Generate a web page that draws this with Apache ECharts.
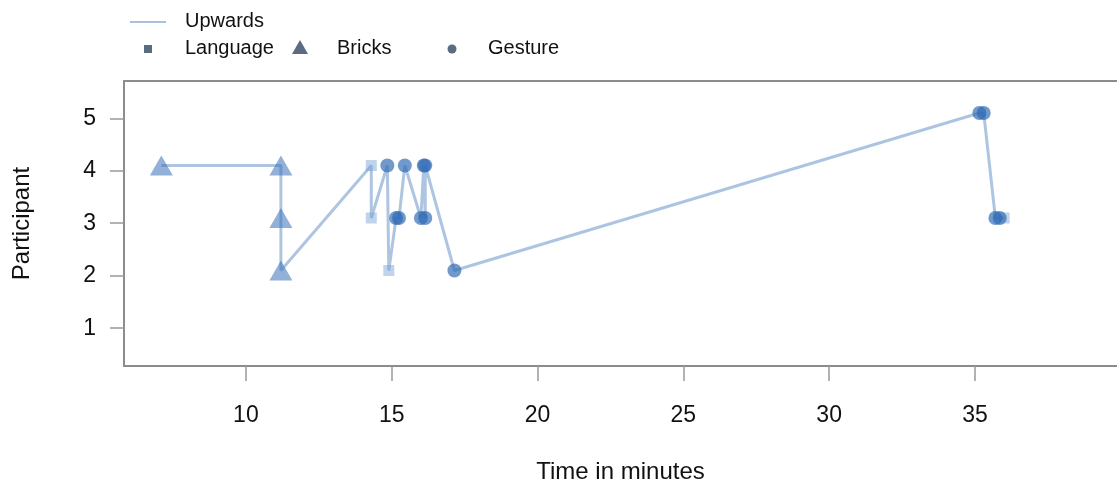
<!DOCTYPE html>
<html>
<head>
<meta charset="utf-8">
<script src="https://cdn.jsdelivr.net/npm/echarts@6/dist/echarts.min.js"></script>
<style>
  html, body { margin: 0; padding: 0; background: #fff; }
  #chart { width: 1117px; height: 484px; }
</style>
</head>
<body>
<div id="chart"></div>
<script>
// path of events in time order (minutes, participant with small offset, kind)
const times = [7.1, 11.2, 11.2, 11.2, 14.3, 14.3, 14.85, 14.9, 15.15, 15.25, 15.45, 16.0, 16.1, 16.15, 16.15, 17.15, 35.15, 35.3, 35.7, 35.85, 36.0]
const participants = [4.1, 4.1, 3.1, 2.1, 4.1, 3.1, 4.1, 2.1, 3.1, 3.1, 4.1, 3.1, 4.1, 3.1, 4.1, 2.1, 5.1, 5.1, 3.1, 3.1, 3.1]
const kinds = ['Bricks', 'Bricks', 'Bricks', 'Bricks', 'Language', 'Language', 'Gesture', 'Language', 'Gesture', 'Gesture', 'Gesture', 'Gesture', 'Gesture', 'Gesture', 'Gesture', 'Gesture', 'Gesture', 'Gesture', 'Gesture', 'Gesture', 'Language']

const xTicks = [10, 15, 20, 25, 30, 35]
const yTicks = [1, 2, 3, 4, 5]

const font = 'Liberation Sans'
const boxColor = '#8c8c8c'

const pathData = times.map((t, i) => [t, participants[i]])
const pointsOf = (kind) => times.map((t, i) => [t, participants[i], kinds[i]]).filter(d => d[2] === kind).map(d => [d[0], d[1]])

const chart = echarts.init(document.getElementById('chart'))

const option = {
  animation: false,
  backgroundColor: '#fff',
  grid: { left: 124, top: 81, right: 0, bottom: 118, outerBoundsMode: 'none', containLabel: false },
  xAxis: [
    {
      type: 'value',
      min: 5.82,
      max: 39.87,
      splitLine: { show: false },
      axisLine: { show: true, onZero: false, lineStyle: { color: boxColor, width: 2 } },
      axisTick: { show: true, length: 15, customValues: xTicks, lineStyle: { color: '#999', width: 1.5 } },
      axisLabel: { customValues: xTicks, margin: 38, fontSize: 23, color: '#111', fontFamily: font },
      name: 'Time in minutes',
      nameLocation: 'middle',
      nameGap: 94,
      nameTextStyle: { fontSize: 24, color: '#111', fontFamily: font }
    },
    {
      type: 'value',
      position: 'top',
      min: 5.82,
      max: 39.87,
      splitLine: { show: false },
      axisLine: { show: true, onZero: false, lineStyle: { color: boxColor, width: 2 } },
      axisTick: { show: false },
      axisLabel: { show: false }
    }
  ],
  yAxis: {
    type: 'value',
    min: 0.28,
    max: 5.71,
    splitLine: { show: false },
    axisLine: { show: true, onZero: false, lineStyle: { color: boxColor, width: 2 } },
    axisTick: { show: true, length: 14, customValues: yTicks, lineStyle: { color: '#999', width: 1.5 } },
    axisLabel: { customValues: yTicks, margin: 28, fontSize: 23, color: '#111', fontFamily: font },
    name: 'Participant',
    nameLocation: 'middle',
    nameGap: 90,
    nameTextStyle: { fontSize: 24, color: '#111', fontFamily: font }
  },
  graphic: [
    { type: 'line', shape: { x1: 130, y1: 22, x2: 166, y2: 22 }, style: { stroke: '#a9c1dd', lineWidth: 2 } },
    { type: 'text', left: 185, top: 11, style: { text: 'Upwards', fontSize: 20, fill: '#111', fontFamily: font } },
    { type: 'rect', shape: { x: 144, y: 45, width: 8, height: 8 }, style: { fill: '#5b6b80' } },
    { type: 'text', left: 185, top: 38, style: { text: 'Language', fontSize: 20, fill: '#111', fontFamily: font } },
    { type: 'polygon', shape: { points: [[300, 40], [292, 54], [308, 54]] }, style: { fill: '#5b6b80' } },
    { type: 'text', left: 337, top: 38, style: { text: 'Bricks', fontSize: 20, fill: '#111', fontFamily: font } },
    { type: 'circle', shape: { cx: 452, cy: 49, r: 4.5 }, style: { fill: '#5b6b80' } },
    { type: 'text', left: 488, top: 38, style: { text: 'Gesture', fontSize: 20, fill: '#111', fontFamily: font } }
  ],
  series: [
    {
      name: 'Upwards',
      type: 'line',
      data: pathData,
      showSymbol: false,
      lineStyle: { color: 'rgba(120, 158, 205, 0.6)', width: 3 },
      z: 1
    },
    {
      name: 'Language',
      type: 'scatter',
      symbol: 'rect',
      symbolSize: 11,
      data: pointsOf('Language'),
      itemStyle: { color: 'rgba(110, 155, 210, 0.55)' },
      z: 2
    },
    {
      name: 'Bricks',
      type: 'scatter',
      symbol: 'triangle',
      symbolSize: [23, 20],
      data: pointsOf('Bricks'),
      itemStyle: { color: 'rgba(60, 115, 185, 0.7)' },
      z: 3
    },
    {
      name: 'Gesture',
      type: 'scatter',
      symbol: 'circle',
      symbolSize: 14,
      data: pointsOf('Gesture'),
      itemStyle: { color: 'rgba(45, 105, 180, 0.85)' },
      z: 4
    }
  ]
}

chart.setOption(option)
</script>
</body>
</html>
